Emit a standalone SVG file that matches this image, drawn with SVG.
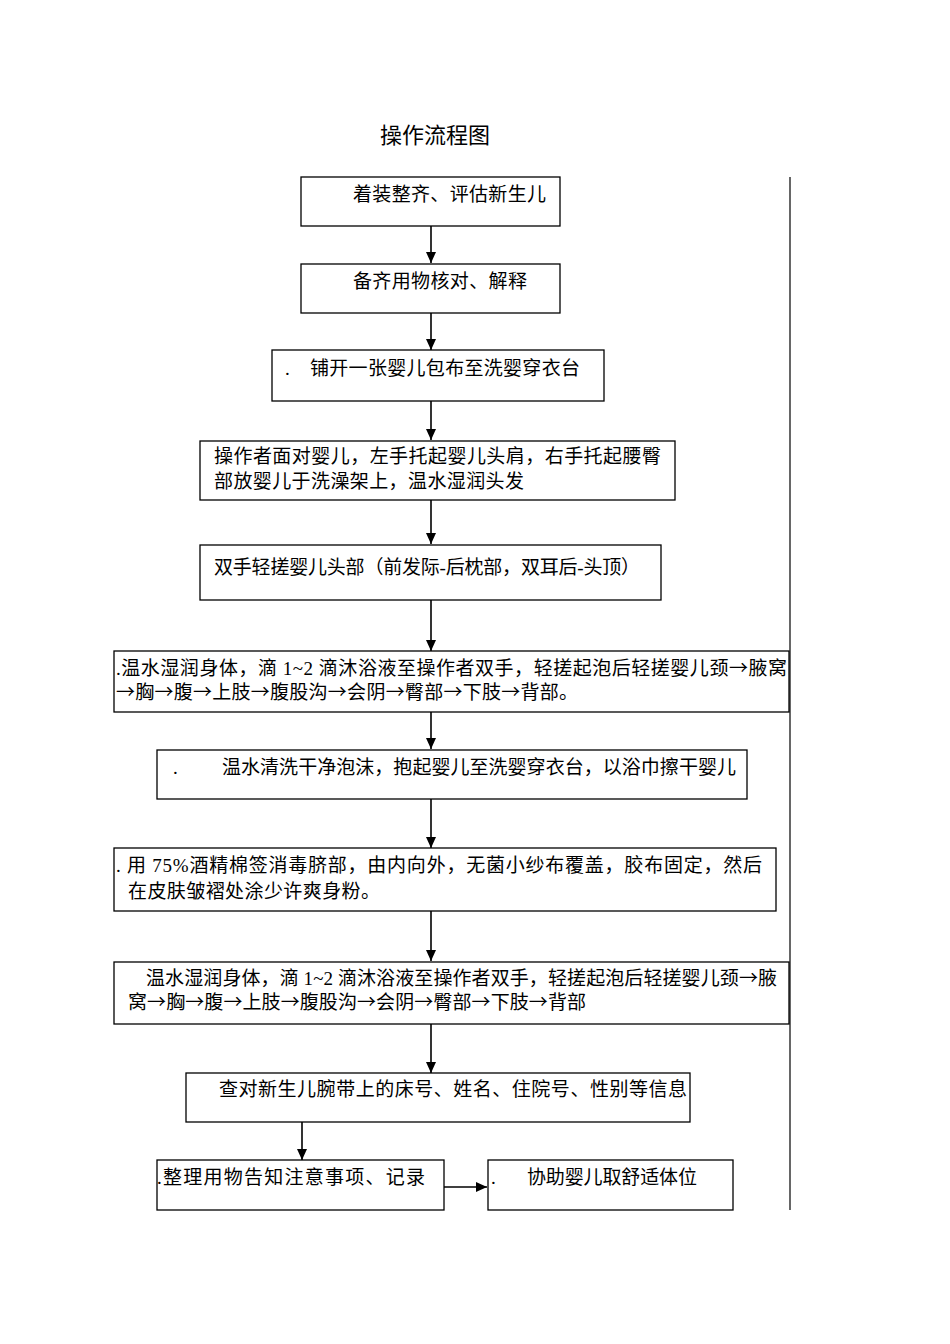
<svg xmlns="http://www.w3.org/2000/svg" width="950" height="1344" viewBox="0 0 950 1344">
<style>
.box{fill:#fff;stroke:#000;stroke-width:1.3}
.t{font-family:"Liberation Serif","Noto Sans CJK SC",serif;font-size:19px;fill:#000}
.a{font-family:"Noto Sans CJK SC","Liberation Serif",sans-serif}
.title{font-family:"Liberation Serif","Noto Sans CJK SC",serif;font-size:22px;fill:#000}
.c{stroke:#000;stroke-width:1.6;fill:none}
</style>
<defs>
<marker id="ah" markerUnits="userSpaceOnUse" markerWidth="12" markerHeight="10" refX="11" refY="5" orient="auto">
<path d="M0,0 L11,5 L0,10 z" fill="#000"/>
</marker>
</defs>
<rect width="950" height="1344" fill="#fff"/>
<text class="title" x="380" y="143" textLength="110">操作流程图</text>
<line x1="790" y1="177" x2="790" y2="1210" stroke="#000" stroke-width="1.2"/>

<g id="connectors">
<line class="c" x1="431" y1="226" x2="431" y2="263" marker-end="url(#ah)"/>
<line class="c" x1="431" y1="313" x2="431" y2="350" marker-end="url(#ah)"/>
<line class="c" x1="431" y1="401" x2="431" y2="440" marker-end="url(#ah)"/>
<line class="c" x1="431" y1="500" x2="431" y2="544" marker-end="url(#ah)"/>
<line class="c" x1="431" y1="600" x2="431" y2="651" marker-end="url(#ah)"/>
<line class="c" x1="431" y1="712" x2="431" y2="749" marker-end="url(#ah)"/>
<line class="c" x1="431" y1="799" x2="431" y2="848" marker-end="url(#ah)"/>
<line class="c" x1="431" y1="911" x2="431" y2="961" marker-end="url(#ah)"/>
<line class="c" x1="431" y1="1024" x2="431" y2="1073" marker-end="url(#ah)"/>
<line class="c" x1="302" y1="1122" x2="302" y2="1160" marker-end="url(#ah)"/>
<line class="c" x1="444" y1="1187" x2="487" y2="1187" marker-end="url(#ah)"/>
</g>

<g id="n1"><rect class="box" x="301" y="177" width="259" height="49"/>
<text class="t" x="353" y="201" textLength="193">着装整齐、评估新生儿</text></g>

<g id="n2"><rect class="box" x="301" y="264" width="259" height="49"/>
<text class="t" x="353" y="288" textLength="174">备齐用物核对、解释</text></g>

<g id="n3"><rect class="box" x="272" y="350" width="332" height="51"/>
<text class="t" x="285" y="375">.</text>
<text class="t" x="310" y="375" textLength="270">铺开一张婴儿包布至洗婴穿衣台</text></g>

<g id="n4"><rect class="box" x="200" y="441" width="475" height="59"/>
<text class="t" x="214" y="463" textLength="447">操作者面对婴儿，左手托起婴儿头肩，右手托起腰臀</text>
<text class="t" x="214" y="488" textLength="310">部放婴儿于洗澡架上，温水湿润头发</text></g>

<g id="n5"><rect class="box" x="200" y="545" width="461" height="55"/>
<text class="t" x="214" y="574" textLength="426">双手轻搓婴儿头部（前发际-后枕部，双耳后-头顶）</text></g>

<g id="n6"><rect class="box" x="114" y="651" width="675" height="61"/>
<text class="t" x="116" y="675" textLength="671">.温水湿润身体，滴 1~2 滴沐浴液至操作者双手，轻搓起泡后轻搓婴儿颈<tspan class="a">→</tspan>腋窝</text>
<text class="t" x="116" y="699" textLength="462"><tspan class="a">→</tspan>胸<tspan class="a">→</tspan>腹<tspan class="a">→</tspan>上肢<tspan class="a">→</tspan>腹股沟<tspan class="a">→</tspan>会阴<tspan class="a">→</tspan>臀部<tspan class="a">→</tspan>下肢<tspan class="a">→</tspan>背部。</text></g>

<g id="n7"><rect class="box" x="157" y="750" width="590" height="49"/>
<text class="t" x="173" y="774">.</text>
<text class="t" x="222" y="774" textLength="514">温水清洗干净泡沫，抱起婴儿至洗婴穿衣台，以浴巾擦干婴儿</text></g>

<g id="n8"><rect class="box" x="114" y="848" width="662" height="63"/>
<text class="t" x="116" y="872" textLength="646">. 用 75%酒精棉签消毒脐部，由内向外，无菌小纱布覆盖，胶布固定，然后</text>
<text class="t" x="128" y="898" textLength="252">在皮肤皱褶处涂少许爽身粉。</text></g>

<g id="n9"><rect class="box" x="114" y="962" width="675" height="62"/>
<text class="t" x="146" y="985" textLength="631">温水湿润身体，滴 1~2 滴沐浴液至操作者双手，轻搓起泡后轻搓婴儿颈<tspan class="a">→</tspan>腋</text>
<text class="t" x="128" y="1009" textLength="458">窝<tspan class="a">→</tspan>胸<tspan class="a">→</tspan>腹<tspan class="a">→</tspan>上肢<tspan class="a">→</tspan>腹股沟<tspan class="a">→</tspan>会阴<tspan class="a">→</tspan>臀部<tspan class="a">→</tspan>下肢<tspan class="a">→</tspan>背部</text></g>

<g id="n10"><rect class="box" x="186" y="1073" width="504" height="49"/>
<text class="t" x="219" y="1096" textLength="468">查对新生儿腕带上的床号、姓名、住院号、性别等信息</text></g>

<g id="n11"><rect class="box" x="157" y="1160" width="287" height="50"/>
<text class="t" x="157" y="1184" textLength="268">.整理用物告知注意事项、记录</text></g>

<g id="n12"><rect class="box" x="488" y="1160" width="245" height="50"/>
<text class="t" x="491" y="1184">.</text>
<text class="t" x="527" y="1184" textLength="170">协助婴儿取舒适体位</text></g>
</svg>
